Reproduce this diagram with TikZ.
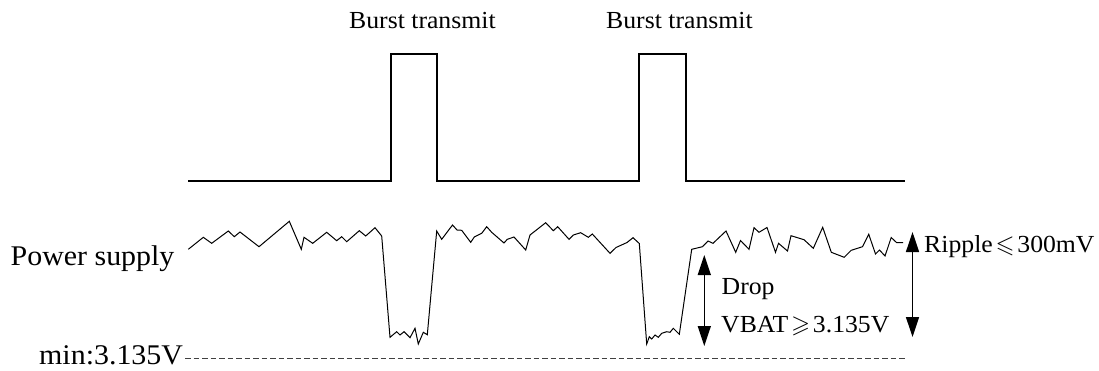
\documentclass[tikz,border=0pt]{standalone}
\usepackage{amsmath,amssymb}
\usepackage{fontspec}
\setmainfont{Liberation Serif}[FakeStretch=1.05]
\usepackage{tikz}
\usetikzlibrary{arrows.meta}
\tikzset{
  pulse/.style={draw=black, line width=1.1pt, line join=miter},
  wave/.style={draw=black, line width=1pt, line join=miter},
  help/.style={draw=black!75, dash pattern=on 5.5pt off 3pt, line width=1pt},
  dbl/.style={draw=black, line width=1.4pt,
    {Triangle[length=20pt,width=13pt]}-{Triangle[length=20pt,width=13pt]}},
  lab/.style={text=black, inner sep=0pt, anchor=base west,
    font=\fontsize{24.5}{29}\selectfont},
  labbig/.style={lab, font=\fontsize{28.5}{34}\selectfont}
}
\newcommand{\relsym}[1]{$\mkern2mu#1\mkern2mu$}

\begin{document}
\begin{tikzpicture}[x=1pt,y=-1pt]
  \useasboundingbox (0,0) rectangle (1099,370);

  % burst pulses
  \draw[pulse] (188,181) -- (391,181) -- (391,54) -- (437,54) -- (437,181)
    -- (639,181) -- (639,54) -- (686,54) -- (686,181) -- (905,181);
  \node[lab] (burst1) at (349,28.3) {Burst transmit};
  \node[lab] (burst2) at (606,28.3) {Burst transmit};

  % supply voltage
  \draw[wave] (188.3,249.3) -- (203.3,237.3) -- (211.7,243.3) -- (228.3,231)
    -- (234.3,236.7) -- (240,232) -- (259,246.7) -- (289.3,221.3) -- (301.3,249.3)
    -- (304,237.3) -- (312.7,243.3) -- (326.7,232.3) -- (336.7,240.7) -- (341.7,236.7)
    -- (346.7,241.7) -- (359.3,230.7) -- (365.7,236) -- (375,227.7) -- (381.7,236)
    -- (390,337.3) -- (396.7,331.7) -- (400,335) -- (404,331.7) -- (410,337.7)
    -- (415,328.3) -- (418.3,344) -- (423.3,332.3) -- (427.3,334.7)
    -- (436.7,231) -- (441.7,239.3) -- (452.5,225) -- (457,230) -- (461.7,230.3)
    -- (470.7,242.3) -- (474.3,237) -- (481.7,233.3) -- (486.7,226.7) -- (491.7,232.3)
    -- (504,243) -- (507.3,239.3) -- (514,237) -- (525.7,250) -- (530,235)
    -- (545.7,222.7) -- (553.3,230.7) -- (557.7,226.7) -- (569,239.3) -- (573.3,235)
    -- (580.7,232.7) -- (588.3,237.3) -- (592.3,234) -- (610,253.3) -- (616,247.5)
    -- (627,242.5) -- (633,237.7) -- (639.3,243.5)
    -- (646.7,344) -- (649.3,336.7) -- (651.7,339) -- (655,335) -- (658.3,337.3)
    -- (661.7,333.3) -- (666.7,331.7) -- (670,332.3) -- (673.3,328.3) -- (679.3,334.3)
    -- (691.7,249.3) -- (702.5,246.7) -- (708,241) -- (713,243.3) -- (726,231)
    -- (735.7,252.3) -- (740.5,240.5) -- (749,249.3) -- (754,227.7) -- (759,232.3)
    -- (767,227.5) -- (775.5,252.3) -- (778.5,243.3) -- (787.5,251) -- (791,235.7)
    -- (804,239.7) -- (813.3,248.3) -- (822.7,227.3) -- (831.3,252.3) -- (844.2,257.3)
    -- (851.2,250.3) -- (862.5,246.7) -- (868.7,234.2) -- (875.5,254) -- (879.5,250)
    -- (885,256) -- (891.2,237.5) -- (896.7,242.7) -- (903,242.7);
  \node[labbig] (supply) at (10.5,265) {Power supply};

  % minimum level
  \node[labbig] (minv) at (39,364.8) {min:3.135V};
  \coordinate (minEnd) at (905,358.3);
  \draw[help] ([xshift=2pt]minv.east |- minEnd) -- (minEnd);

  % drop and ripple
  \coordinate (dropTop) at (704.3,255);
  \coordinate (dropBot) at (704.3,346);
  \draw[dbl] (dropTop) -- (dropBot);
  \node[lab] (drop) at (721.5,294.5) {Drop};
  \node[lab] (vbat) at (721,332.5) {VBAT\relsym{\geqslant}3.135V};

  \coordinate (ripTop) at (912.5,232);
  \coordinate (ripBot) at (912.5,337);
  \draw[dbl] (ripTop) -- (ripBot);
  \node[lab] (ripple) at (924,252) {Ripple\relsym{\leqslant}300mV};
\end{tikzpicture}
\end{document}
